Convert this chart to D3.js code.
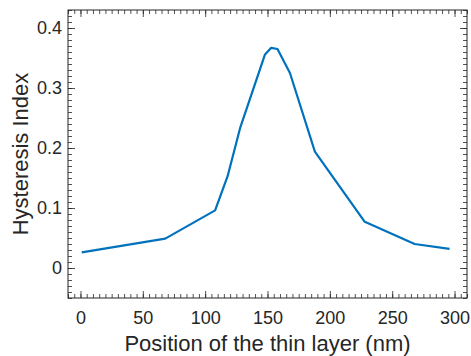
<!DOCTYPE html>
<html>
<head>
<meta charset="utf-8">
<script src="https://cdn.jsdelivr.net/npm/d3@7"></script>
<style>
  body { margin: 0; background: #fff; }
  svg { display: block; font-family: "Liberation Sans", Arial, sans-serif; }
</style>
</head>
<body>
<svg id="chart"></svg>
<script>
// layer position (nm) and hysteresis index
const positions = [1, 68, 108, 118, 128, 148, 153, 158, 168, 188, 228, 268, 296];
const hysteresis = [0.026, 0.049, 0.096, 0.153, 0.233, 0.356, 0.367, 0.365, 0.325, 0.194, 0.077, 0.040, 0.032];
const xTicks = [0, 50, 100, 150, 200, 250, 300];
const yTicks = [0, 0.1, 0.2, 0.3, 0.4];

const W = 471, H = 356;
const margin = { top: 10, right: 4, bottom: 58, left: 68 };
const width = W - margin.left - margin.right;
const height = H - margin.top - margin.bottom;
const ink = "#262626";

const svg = d3.select("#chart").attr("width", W).attr("height", H);
const g = svg.append("g").attr("transform", `translate(${margin.left},${margin.top})`);

const x = d3.scaleLinear().domain([-10, 310]).range([0, width]);
const y = d3.scaleLinear().domain([-0.05, 0.43]).range([height, 0]);

const xMinor = d3.range(-10, 311, 5);
const yMinor = d3.range(-5, 44).map(d => d / 100);

function styleAxis(sel) {
  sel.select(".domain").remove();
  sel.selectAll("line").attr("stroke", ink).attr("stroke-width", 0.8);
  sel.selectAll("text").attr("fill", ink).style("font-size", "18px");
}

// minor ticks on all four sides
g.append("g").attr("transform", `translate(0,${height})`)
  .call(d3.axisBottom(x).tickValues(xMinor).tickSize(-4).tickFormat("")).call(styleAxis);
g.append("g")
  .call(d3.axisTop(x).tickValues(xMinor).tickSize(-4).tickFormat("")).call(styleAxis);
g.append("g")
  .call(d3.axisLeft(y).tickValues(yMinor).tickSize(-4).tickFormat("")).call(styleAxis);
g.append("g").attr("transform", `translate(${width},0)`)
  .call(d3.axisRight(y).tickValues(yMinor).tickSize(-4).tickFormat("")).call(styleAxis);

// major ticks
g.append("g").attr("transform", `translate(0,${height})`)
  .call(d3.axisBottom(x).tickValues(xTicks).tickSize(-7).tickPadding(13).tickFormat(d3.format("d")))
  .call(styleAxis);
g.append("g")
  .call(d3.axisTop(x).tickValues(xTicks).tickSize(-7).tickFormat("")).call(styleAxis);
g.append("g")
  .call(d3.axisLeft(y).tickValues(yTicks).tickSize(-7).tickPadding(6).tickFormat(d => d === 0 ? "0" : d3.format(".1f")(d)))
  .call(styleAxis);
g.append("g").attr("transform", `translate(${width},0)`)
  .call(d3.axisRight(y).tickValues(yTicks).tickSize(-7).tickFormat("")).call(styleAxis);

// frame
g.append("rect")
  .attr("width", width).attr("height", height)
  .attr("fill", "none").attr("stroke", ink).attr("stroke-width", 1);

// data line
const line = d3.line().x(d => x(d[0])).y(d => y(d[1]));
g.append("path")
  .datum(d3.zip(positions, hysteresis))
  .attr("d", line)
  .attr("fill", "none")
  .attr("stroke", "#0072BD")
  .attr("stroke-width", 2.2)
  .attr("stroke-linejoin", "round");

// axis titles
svg.append("text")
  .attr("x", margin.left + width / 2)
  .attr("y", 351)
  .attr("text-anchor", "middle")
  .attr("fill", ink)
  .style("font-size", "22px")
  .text("Position of the thin layer (nm)");

svg.append("text")
  .attr("transform", `translate(28,${margin.top + height / 2}) rotate(-90)`)
  .attr("text-anchor", "middle")
  .attr("fill", ink)
  .style("font-size", "22px")
  .text("Hysteresis Index");
</script>
</body>
</html>
